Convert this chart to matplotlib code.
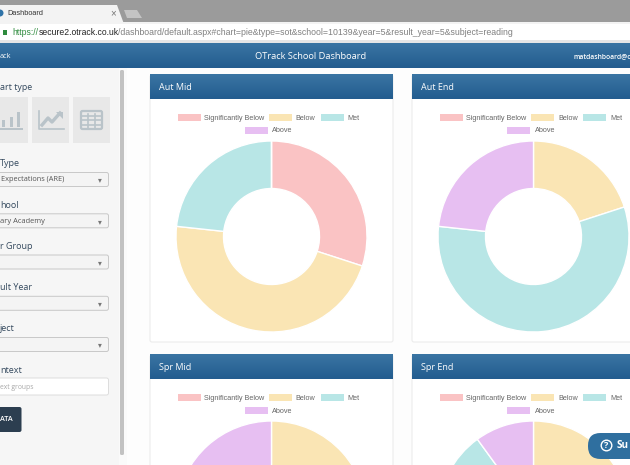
import numpy as np
import matplotlib
matplotlib.use("Agg")
import matplotlib.pyplot as plt
from matplotlib.patches import Rectangle, FancyBboxPatch, Polygon, Circle

W, H = 630, 465

# ---- data ----
categories = ["Significantly Below", "Below", "Met", "Above"]
aut_mid = [30.0, 46.7, 23.3, 0.0]
aut_end = [0.0, 20.0, 56.7, 23.3]
spr_mid = [0.0, 53.3, 23.3, 23.4]
spr_end = [0.0, 60.0, 30.0, 10.0]
panel_titles = ["Aut Mid", "Aut End", "Spr Mid", "Spr End"]
slice_colors = ["#FAC3C4", "#FAE5B4", "#B8E6E6", "#E7BFF2"]
sidebar_labels = ["Type", "hool", "r Group", "ult Year", "ject", "ntext"]

fig = plt.figure(figsize=(W / 100, H / 100), dpi=100, facecolor="#fdfdfd")
ax = fig.add_axes([0, 0, 1, 1])
ax.set_axis_off()


def Y(y):
    return H - y


def rect(x0, y0, x1, y1, fc, ec="none", lw=0, z=1):
    ax.add_patch(Rectangle((x0, Y(y1)), x1 - x0, y1 - y0, fc=fc, ec=ec, lw=lw, zorder=z))


def rrect(x0, y0, x1, y1, fc, ec="none", lw=0, z=1, r=2):
    ax.add_patch(FancyBboxPatch((x0 + r, Y(y1) + r), x1 - x0 - 2 * r, y1 - y0 - 2 * r,
                                boxstyle=f"round,pad={r},rounding_size={r}",
                                fc=fc, ec=ec, lw=lw, zorder=z))


def txt(x, y, s, size, color, ha="left", weight="normal", family="Open Sans", z=6):
    dy = 0.8 if family == "Open Sans" else 0.3
    ax.text(x, Y(y + dy), s, fontsize=size, color=color, ha=ha, va="center",
            fontweight=weight, family=family, zorder=z)


def grad(x0, y0, x1, y1, top, bottom, z=2):
    c0, c1 = np.array(matplotlib.colors.to_rgb(top)), np.array(matplotlib.colors.to_rgb(bottom))
    t = np.linspace(0, 1, 32)[:, None, None]
    img = c0[None, None, :] * (1 - t) + c1[None, None, :] * t
    ax.imshow(img, extent=(x0, x1, Y(y1), Y(y0)), aspect="auto", zorder=z, interpolation="bilinear")


# ---- browser chrome ----
rect(0, 0, W, 22, "#9b9b9b")
ax.add_patch(Polygon([(0, Y(24)), (0, Y(5)), (117, Y(5)), (124, Y(24))], fc="#f3f3f3", ec="none", zorder=2))
ax.add_patch(Polygon([(124, Y(10)), (137, Y(10)), (142, Y(18)), (127, Y(18))], fc="#c4c4c4", ec="none", zorder=2))
rect(0, 22, W, 24, "#f3f3f3")
rect(0, 24, W, 40, "#ffffff", z=2)
rect(0, 40, W, 43, "#e6e6e6", z=2)
ax.add_patch(Circle((0, Y(13)), 3.5, fc="#2f73a8", ec="none", zorder=3))
txt(7, 13, "Dashboard", 5.3, "#333333", family="Liberation Sans")
txt(113, 13, "×", 7, "#777777", ha="center", family="Liberation Sans")
rect(2.5, 30, 7, 35, "#2e8b3d", z=3)
txt(12.5, 32, "https://", 6.2, "#2e8b3d", family="Liberation Sans")
txt(39, 32, "secure2.otrack.co.uk", 6.2, "#222222", family="Liberation Sans")
txt(118.5, 32, "/dashboard/default.aspx#chart=pie&type=sot&school=10139&year=5&result_year=5&subject=reading",
    6.27, "#808080", family="Liberation Sans")

# ---- nav bar ----
grad(0, 43, W, 68, "#3a75a3", "#235c8f")
txt(0, 55.5, "ack", 5.2, "#ffffff")
txt(310.5, 55.5, "OTrack School Dashboard", 6.7, "#ffffff", ha="center")
txt(573, 55.5, "matdashboard@o", 4.9, "#ffffff", weight="semibold")

# ---- sidebar ----
rect(0, 68, 119, H, "#f6f6f6")
rect(119, 68, 127, H, "#fafafa")
rrect(120, 70, 124, 455, "#c2c2c2", r=1.5, z=2)
txt(0, 86.5, "art type", 6.4, "#34495e")
for x0, x1 in [(0, 28), (32, 69), (73, 110)]:
    rect(x0, 97, x1, 143, "#e8e8e8", z=2)
ic = "#b9c3c9"
for x0, h in zip([2, 10, 17], [7, 10, 15]):
    rect(x0, 127 - h, x0 + 3, 127, ic, z=3)
rect(0, 128.3, 23, 130, ic, z=3)
ax.plot([38.5, 38.5, 64], [Y(111), Y(129.5), Y(129.5)], color=ic, lw=1.2, zorder=3)
ax.plot([42, 48, 52, 60], [Y(125), Y(118), Y(122), Y(113)], color=ic, lw=2.4, zorder=3)
ax.add_patch(Polygon([(56, Y(112)), (63, Y(112)), (63, Y(119))], fc=ic, ec="none", zorder=3))
rrect(81, 111, 102, 129, "none", ec=ic, lw=1.6, z=3, r=1.5)
for yy in (116, 120.5, 125):
    ax.plot([81, 102], [Y(yy), Y(yy)], color=ic, lw=1.2, zorder=3)
for xx in (87.5, 94.5):
    ax.plot([xx, xx], [Y(114), Y(129)], color=ic, lw=1.2, zorder=3)

label_y = [163, 204.5, 246, 287, 328, 370]
for s, yy in zip(sidebar_labels, label_y):
    txt(0, yy, s, 6.5, "#34495e")
box_y = [172.5, 213.8, 255, 296.3, 337.5]
for y0 in box_y:
    rrect(-4, y0, 108.5, y0 + 14, "#f4f4f4", ec="#c8c8c8", lw=0.7, z=2)
    txt(100, y0 + 7, "▾", 5.5, "#777777", ha="center", family="DejaVu Sans")
txt(1, 179, "Expectations (ARE)", 5.3, "#555555")
txt(0, 220.3, "ary Academy", 5.4, "#555555")
rrect(-4, 378, 108.5, 395, "#ffffff", ec="#dddddd", lw=0.7, z=2)
txt(0, 386.5, "ext groups", 4.9, "#a8a8a8")
rrect(-4, 407, 21.5, 432, "#2c3e50", z=2)
txt(0, 419, "ATA", 5.2, "#ffffff", weight="semibold")

# ---- panels ----
panel_x = [150, 412]
panel_y = [75, 355]
series = [aut_mid, aut_end, spr_mid, spr_end]
legend_dx = [(28, 54), (119, 146), (171, 198)]

for idx, (title, values) in enumerate(zip(panel_titles, series)):
    px = panel_x[idx % 2]
    py = panel_y[idx // 2]
    rrect(px, py, px + 243, py + 267, "#ffffff", ec="#ececec", lw=0.8, z=2)
    grad(px, py, px + 243, py + 24.5, "#3a75a3", "#235c8f", z=3)
    txt(px + 9, py + 12, title, 6.5, "#ffffff")

    # legend
    sw_y = py + 39
    off = -0.3 if idx % 2 == 0 else 0
    for (sx, tx), name, col in zip(legend_dx, categories[:3], slice_colors[:3]):
        rect(px + sx + off, sw_y, px + sx + 23 + off, sw_y + 7.4, col, z=3)
        txt(px + tx + off, sw_y + 3.9, name, 5.25, "#666666", family="Liberation Sans")
    rect(px + 95 + off, sw_y + 12.7, px + 118 + off, sw_y + 20.1, slice_colors[3], z=3)
    txt(px + 122.5 + off, sw_y + 16.7, categories[3], 5.25, "#666666", family="Liberation Sans")

    # donut
    cx = px + 121.5
    cy = py + 161.5
    wedges, _ = ax.pie(values, colors=slice_colors, startangle=90, counterclock=False,
                       radius=95.5, center=(cx, Y(cy)), frame=True, normalize=True,
                       wedgeprops=dict(width=47.5, edgecolor="white", linewidth=1.0))
    for w in wedges:
        w.set_zorder(4)

# ---- support button ----
rrect(588, 433, 645, 459, "#2f6f9f", z=8, r=12.5)
ax.add_patch(Circle((606.5, Y(445.5)), 5.3, fc="none", ec="white", lw=1, zorder=9))
txt(606.5, 445, "?", 6.5, "#ffffff", ha="center", weight="bold", z=9)
txt(617, 445, "Su", 7.2, "#ffffff", weight="bold", z=9)

ax.set_xlim(0, W)
ax.set_ylim(0, H)
ax.set_xticks([])
ax.set_yticks([])
ax.set_axis_off()
fig.savefig("out.png", dpi=100, facecolor=fig.get_facecolor())
